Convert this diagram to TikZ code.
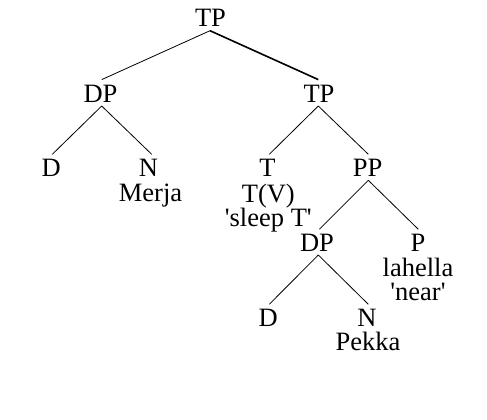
\documentclass[tikz,border=0pt]{standalone}
\usepackage{fontspec}
\setmainfont{Liberation Serif}[Ligatures=TeXOff]
\begin{document}
\begin{tikzpicture}[x=1pt,y=1pt,
  cat/.style={anchor=base,font=\fontsize{26.5}{25}\selectfont,inner sep=0pt},
  word/.style={anchor=base,font=\fontsize{26.5}{25}\selectfont,inner sep=0pt},
  edge/.style={line width=0.8pt},
  heavy/.style={line width=1.6pt}]
\useasboundingbox (0,0) rectangle (487,-420);
% nodes (x = centre, y = -baseline)
\node[cat] (tp)  at (210.5,-27) {TP};
\node[cat] (dp)  at (100.5,-102.3) {DP};
\node[cat] (tp2) at (319,-102.3) {TP};
\node[cat] (d)   at (51.3,-176.7) {D};
\node[cat] (n)   at (148.5,-176.7) {N};
\node[word] (merja) at (150.5,-201.7) {Merja};
\node[cat] (t)   at (267.5,-176.7) {T};
\node[word] (tv) at (268.3,-202.7) {T(V)};
\node[word] (sleep) at (268.3,-226.7) {'sleep T'};
\node[cat] (pp)  at (367.5,-176.7) {PP};
\node[cat] (dp2) at (317,-251.7) {DP};
\node[cat] (p)   at (418,-251.7) {P};
\node[word] (lahella) at (418,-276) {lahella};
\node[word] (near) at (418,-300.5) {'near'};
\node[cat] (d2)  at (268.3,-326.7) {D};
\node[cat] (n2)  at (367,-326.7) {N};
\node[word] (pekka) at (368,-350.7) {Pekka};
% connectors
\draw[edge]  ([shift={(-0.5,-3.7)}]tp.base) -- ([shift={(1.2,22.7)}]dp.base);
\draw[heavy] ([shift={(-0.5,-3.7)}]tp.base) -- ([shift={(-0.7,22.7)}]tp2.base);
\draw[edge]  ([shift={(1.2,-3.7)}]dp.base) -- ([shift={(1,22.4)}]d.base);
\draw[edge]  ([shift={(1.2,-3.7)}]dp.base) -- ([shift={(3.2,22.4)}]n.base);
\draw[edge]  ([shift={(-0.7,-3.7)}]tp2.base) -- ([shift={(1.8,22.4)}]t.base);
\draw[edge]  ([shift={(-0.7,-3.7)}]tp2.base) -- ([shift={(0.8,22.4)}]pp.base);
\draw[edge]  ([shift={(0.8,-3.6)}]pp.base) -- ([shift={(2.3,22.4)}]dp2.base);
\draw[edge]  ([shift={(0.8,-3.6)}]pp.base) -- ([shift={(0.3,22.4)}]p.base);
\draw[edge]  ([shift={(1.3,-3.3)}]dp2.base) -- ([shift={(1,22.4)}]d2.base);
\draw[edge]  ([shift={(1.3,-3.3)}]dp2.base) -- ([shift={(1.3,22.4)}]n2.base);
\end{tikzpicture}
\end{document}
